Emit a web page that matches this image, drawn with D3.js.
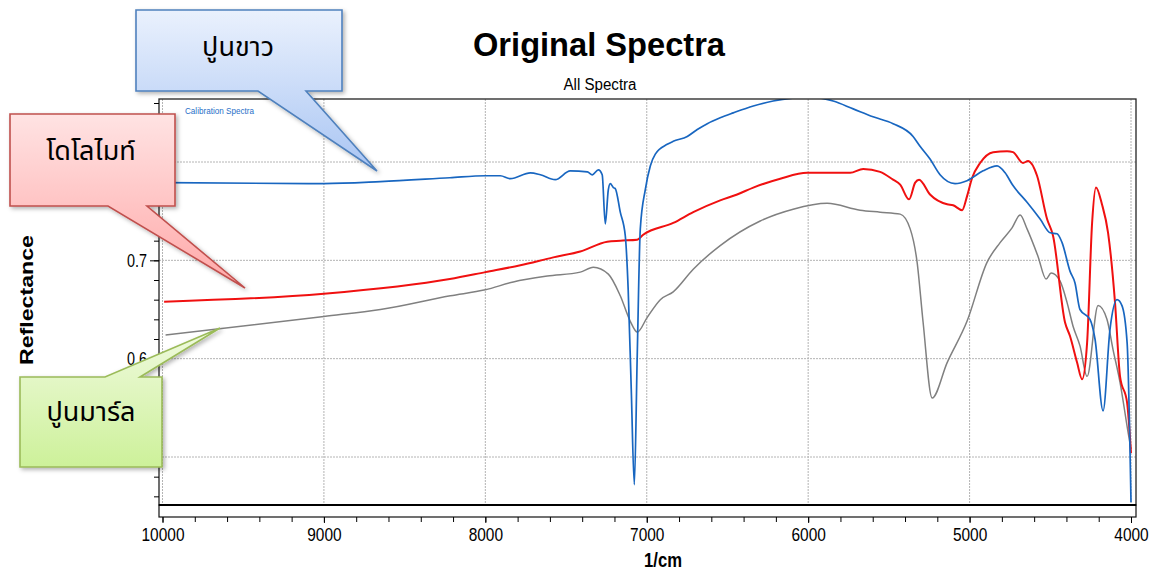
<!DOCTYPE html>
<html><head><meta charset="utf-8">
<script src="https://cdn.jsdelivr.net/npm/d3@7/dist/d3.min.js"></script>
<style>
html,body{margin:0;padding:0;background:#fff;}
svg{display:block;}
.narrow{font-family:"Liberation Sans Narrow","Arial Narrow","Liberation Sans",Arial,sans-serif;}
.thai{font-family:"Noto Sans Thai","Tahoma","Leelawadee UI","Noto Sans",sans-serif;}
</style></head>
<body>
<svg id="c" width="1158" height="574"></svg>
<script>
// ---- data ----
const xTicks = [10000, 9000, 8000, 7000, 6000, 5000, 4000];
const yTicks = [0.5, 0.6, 0.7, 0.8];
const yTickLabels = ["", "0.6", "0.7", ""];
const seriesNames = ["ปูนขาว", "โดโลไมท์", "ปูนมาร์ล"];

const limeWn = [9980, 9000, 8650, 8220, 8000, 7907, 7845, 7721, 7659, 7567, 7474, 7368, 7337, 7300, 7276, 7257, 7238, 7226, 7207, 7195, 7164, 7133, 7115, 7096, 7077, 7059, 7040, 7009, 6978, 6947, 6873, 6836, 6749, 6687, 6625, 6545, 6464, 6340, 6217, 6093, 5988, 5845, 5721, 5598, 5474, 5350, 5307, 5245, 5183, 5090, 5016, 4916, 4830, 4780, 4731, 4644, 4563, 4501, 4458, 4427, 4378, 4347, 4316, 4254, 4223, 4173, 4130, 4087, 4056, 4024, 4000];
const limeR = [0.779, 0.778, 0.780, 0.784, 0.786, 0.786, 0.783, 0.789, 0.787, 0.782, 0.791, 0.790, 0.787, 0.792, 0.787, 0.737, 0.772, 0.778, 0.774, 0.773, 0.749, 0.725, 0.670, 0.569, 0.472, 0.603, 0.732, 0.772, 0.796, 0.808, 0.818, 0.821, 0.826, 0.833, 0.839, 0.845, 0.850, 0.857, 0.862, 0.865, 0.866, 0.862, 0.854, 0.846, 0.839, 0.826, 0.816, 0.803, 0.787, 0.778, 0.781, 0.791, 0.796, 0.789, 0.776, 0.759, 0.742, 0.728, 0.727, 0.718, 0.689, 0.677, 0.650, 0.640, 0.620, 0.547, 0.630, 0.660, 0.654, 0.616, 0.454];

const dolWn = [9990, 9000, 8220, 8000, 7783, 7579, 7412, 7245, 7164, 7059, 7022, 6836, 6712, 6545, 6440, 6340, 6173, 6006, 5740, 5659, 5554, 5474, 5430, 5375, 5337, 5313, 5245, 5139, 5102, 5046, 5016, 4984, 4935, 4854, 4768, 4731, 4669, 4638, 4582, 4520, 4483, 4409, 4378, 4334, 4303, 4272, 4241, 4217, 4180, 4142, 4099, 4068, 4024, 4000];
const dolR = [0.658, 0.666, 0.681, 0.688, 0.695, 0.703, 0.709, 0.719, 0.720, 0.721, 0.726, 0.738, 0.749, 0.761, 0.767, 0.774, 0.783, 0.789, 0.789, 0.793, 0.790, 0.782, 0.777, 0.762, 0.779, 0.782, 0.767, 0.757, 0.756, 0.751, 0.765, 0.784, 0.799, 0.810, 0.811, 0.810, 0.799, 0.801, 0.786, 0.742, 0.725, 0.637, 0.623, 0.596, 0.579, 0.616, 0.738, 0.774, 0.757, 0.728, 0.657, 0.582, 0.555, 0.504];

const marlWn = [9981, 9000, 8650, 8217, 8000, 7827, 7616, 7412, 7331, 7238, 7164, 7102, 7059, 6997, 6916, 6836, 6712, 6545, 6297, 6093, 5882, 5678, 5554, 5430, 5368, 5325, 5288, 5232, 5139, 5016, 4892, 4811, 4737, 4687, 4644, 4576, 4526, 4495, 4440, 4396, 4359, 4316, 4272, 4204, 4149, 4111, 4068, 4018, 4000];
const marlR = [0.624, 0.643, 0.650, 0.664, 0.670, 0.678, 0.684, 0.688, 0.693, 0.686, 0.664, 0.638, 0.627, 0.642, 0.660, 0.668, 0.691, 0.715, 0.740, 0.752, 0.758, 0.751, 0.749, 0.747, 0.732, 0.698, 0.637, 0.560, 0.596, 0.638, 0.698, 0.718, 0.733, 0.746, 0.732, 0.704, 0.681, 0.687, 0.679, 0.657, 0.633, 0.613, 0.582, 0.654, 0.640, 0.609, 0.576, 0.525, 0.508];

// ---- layout ----
const svg = d3.select("#c");
const frame = {l: 159, r: 1136, t: 99, b: 505};
const x = d3.scaleLinear().domain([10000, 4000]).range([162.5, 1131]);
const y = d3.scaleLinear().domain([0.5, 0.8]).range([457, 162]);

const defs = svg.append("defs");
defs.append("clipPath").attr("id", "plotclip").append("rect")
  .attr("x", frame.l).attr("y", frame.t).attr("width", frame.r - frame.l).attr("height", frame.b - frame.t);
function grad(id, c1, c2) {
  const g = defs.append("linearGradient").attr("id", id).attr("x1", 0).attr("y1", 0).attr("x2", 0).attr("y2", 1);
  g.append("stop").attr("offset", "0%").attr("stop-color", c1);
  g.append("stop").attr("offset", "100%").attr("stop-color", c2);
}
grad("gBlue", "#eaf1fd", "#a9c5f3");
grad("gRed", "#ffe3e3", "#ffa8a8");
grad("gGreen", "#f0fadf", "#cdf19a");
const sh = defs.append("filter").attr("id", "shadow").attr("x", "-20%").attr("y", "-20%").attr("width", "150%").attr("height", "150%");
sh.append("feDropShadow").attr("dx", 2).attr("dy", 2).attr("stdDeviation", 2).attr("flood-color", "#000").attr("flood-opacity", 0.3);

// title
svg.append("text").attr("x", 599).attr("y", 56).attr("text-anchor", "middle")
  .attr("font-family", "Liberation Sans, Arial, sans-serif").attr("font-weight", "bold").attr("font-size", 34)
  .attr("textLength", 252).attr("lengthAdjust", "spacingAndGlyphs")
  .text("Original Spectra");
svg.append("text").attr("x", 600).attr("y", 90).attr("text-anchor", "middle")
  .attr("font-family", "Liberation Sans, Arial, sans-serif").attr("font-size", 16)
  .attr("textLength", 73).attr("lengthAdjust", "spacingAndGlyphs")
  .text("All Spectra");

// grid
const grid = svg.append("g");
grid.selectAll("line.v").data(xTicks).join("line")
  .attr("x1", d => x(d)).attr("x2", d => x(d)).attr("y1", frame.t).attr("y2", frame.b)
  .attr("stroke", "#b4b4b4").attr("stroke-dasharray", "2,1");
grid.selectAll("line.h").data(yTicks).join("line")
  .attr("x1", frame.l).attr("x2", frame.r).attr("y1", d => y(d)).attr("y2", d => y(d))
  .attr("stroke", "#b4b4b4").attr("stroke-dasharray", "2,1");

// series
const line = d3.line().x(d => x(d[0])).y(d => y(d[1])).curve(d3.curveMonotoneX);
const lines = svg.append("g").attr("clip-path", "url(#plotclip)");
const series = [
  {wn: marlWn, r: marlR, color: "#808080", w: 1.5},
  {wn: dolWn, r: dolR, color: "#f01010", w: 2},
  {wn: limeWn, r: limeR, color: "#1866c0", w: 1.7}
];
series.forEach(s => {
  lines.append("path").datum(s.wn.map((w, i) => [w, s.r[i]]))
    .attr("d", line).attr("fill", "none").attr("stroke", s.color).attr("stroke-width", s.w)
    .attr("stroke-linejoin", "round");
});

// frame
svg.append("rect").attr("x", frame.l).attr("y", frame.t).attr("width", frame.r - frame.l).attr("height", frame.b - frame.t)
  .attr("fill", "none").attr("stroke", "#222").attr("stroke-width", 1.3);
svg.append("rect").attr("x", frame.l).attr("y", frame.b).attr("width", frame.r - frame.l).attr("height", 12)
  .attr("fill", "#fff").attr("stroke", "#111").attr("stroke-width", 1.2);
svg.append("line").attr("x1", frame.l).attr("x2", frame.r).attr("y1", frame.b).attr("y2", frame.b)
  .attr("stroke", "#000").attr("stroke-width", 2);

svg.append("text").attr("x", 185).attr("y", 114).attr("class", "narrow")
  .attr("font-size", 9.5).attr("fill", "#1f6fc8")
  .attr("textLength", 69).attr("lengthAdjust", "spacingAndGlyphs").text("Calibration Spectra");

// x axis
const xAxisY = frame.b + 12;
const xMinor = svg.append("g").attr("transform", `translate(0,${xAxisY})`)
  .call(d3.axisBottom(x).tickValues(d3.range(10000, 3999, -200)).tickSize(5).tickFormat(""));
xMinor.select(".domain").remove();
const xAx = svg.append("g").attr("transform", `translate(0,${xAxisY})`)
  .call(d3.axisBottom(x).tickValues(xTicks).tickSize(6).tickPadding(5).tickFormat(d3.format("d")));
xAx.select(".domain").remove();
xAx.selectAll("text").attr("class", "narrow").attr("font-size", 19).attr("fill", "#000")
  .attr("textLength", d => String(d).length * 8.6).attr("lengthAdjust", "spacingAndGlyphs");
svg.append("text").attr("x", 663).attr("y", 567).attr("text-anchor", "middle").attr("class", "narrow")
  .attr("font-weight", "bold").attr("font-size", 20)
  .attr("textLength", 38).attr("lengthAdjust", "spacingAndGlyphs").text("1/cm");

// y axis
const yMinor = svg.append("g").attr("transform", `translate(${frame.l},0)`)
  .call(d3.axisLeft(y).tickValues(d3.range(0.46, 0.861, 0.02)).tickSize(5).tickFormat(""));
yMinor.select(".domain").remove();
const yAx = svg.append("g").attr("transform", `translate(${frame.l},0)`)
  .call(d3.axisLeft(y).tickValues(yTicks).tickSize(9).tickPadding(3).tickFormat((d, i) => yTickLabels[i]));
yAx.select(".domain").remove();
yAx.selectAll("text").attr("class", "narrow").attr("font-size", 19).attr("fill", "#000")
  .attr("textLength", 20).attr("lengthAdjust", "spacingAndGlyphs");
svg.append("text").attr("transform", "translate(33,300) rotate(-90)").attr("text-anchor", "middle")
  .attr("font-family", "Liberation Sans, Arial, sans-serif").attr("font-weight", "bold")
  .attr("font-size", 17.5).attr("textLength", 130).attr("lengthAdjust", "spacingAndGlyphs").text("Reflectance");

// callouts
const callouts = [
  {name: seriesNames[0], d: "M136,10 H342 V91 H306 L377,171 L258,91 H136 Z", fill: "url(#gBlue)", stroke: "#4f81bd", tx: 238, ty: 56},
  {name: seriesNames[1], d: "M10,114 H175 V206 H147 L245,288 L108,206 H10 Z", fill: "url(#gRed)", stroke: "#c0504d", tx: 91, ty: 160},
  {name: seriesNames[2], d: "M20,377 H105 L220,328 L140,377 H162 V467 H20 Z", fill: "url(#gGreen)", stroke: "#9bbb59", tx: 91, ty: 421}
];
const cg = svg.append("g");
callouts.forEach(c => {
  cg.append("path").attr("d", c.d).attr("fill", c.fill).attr("stroke", c.stroke)
    .attr("stroke-width", 1.6).attr("filter", "url(#shadow)");
  cg.append("text").attr("x", c.tx).attr("y", c.ty).attr("text-anchor", "middle").attr("class", "thai")
    .attr("font-size", 27).attr("fill", "#000").text(c.name);
});
</script>
</body></html>
